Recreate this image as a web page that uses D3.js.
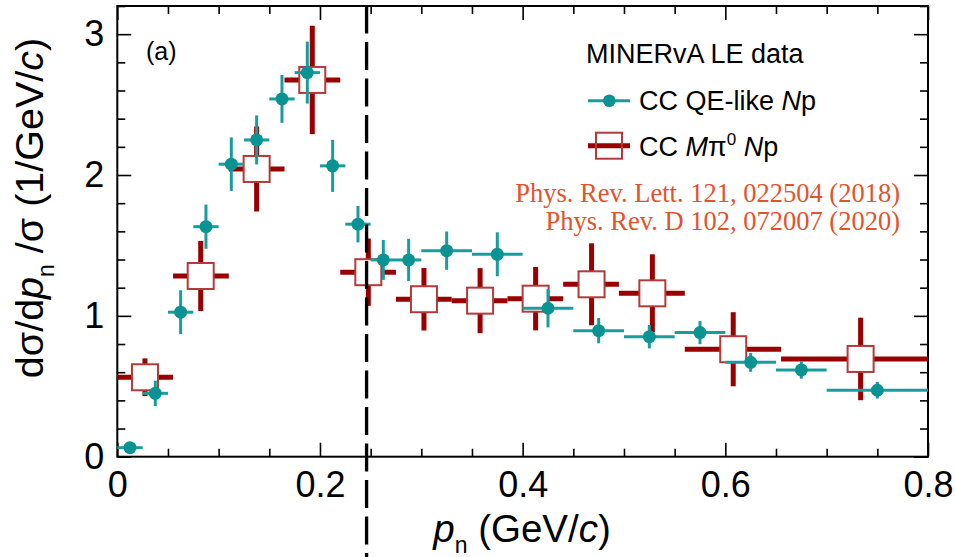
<!DOCTYPE html>
<html>
<head>
<meta charset="utf-8">
<script src="https://cdn.jsdelivr.net/npm/d3@7"></script>
<style>
  html, body { margin: 0; padding: 0; background: #fff; }
  svg { display: block; }
</style>
</head>
<body>
<div id="chart"></div>
<script>
// ---------- data ----------
// CC QE-like Np (teal)
const qeX   = [0.0125, 0.0375, 0.0625, 0.0875, 0.1125, 0.1375, 0.1625, 0.1875, 0.2125, 0.2375,
               0.2625, 0.2875, 0.325, 0.375, 0.425, 0.475, 0.525, 0.575, 0.625, 0.675, 0.75];
const qeLo  = [0, 0.025, 0.05, 0.075, 0.1, 0.125, 0.15, 0.175, 0.2, 0.225,
               0.25, 0.275, 0.3, 0.35, 0.4, 0.45, 0.5, 0.55, 0.6, 0.65, 0.7];
const qeHi  = [0.025, 0.05, 0.075, 0.1, 0.125, 0.15, 0.175, 0.2, 0.225, 0.25,
               0.275, 0.3, 0.35, 0.4, 0.45, 0.5, 0.55, 0.6, 0.65, 0.7, 0.8];
const qeY   = [0.064, 0.45, 1.026, 1.633, 2.077, 2.249, 2.54, 2.727, 2.065, 1.651,
               1.397, 1.397, 1.463, 1.437, 1.054, 0.895, 0.852, 0.881, 0.67, 0.616, 0.472];
const qeErr = [0.03, 0.09, 0.156, 0.157, 0.19, 0.174, 0.17, 0.22, 0.185, 0.13,
               0.142, 0.15, 0.136, 0.156, 0.136, 0.09, 0.083, 0.082, 0.067, 0.062, 0.059];

// CC Mπ0 Np (dark red)
const piX   = [0.0273, 0.0823, 0.1375, 0.1924, 0.2477, 0.3026, 0.358, 0.4128, 0.468, 0.528, 0.6078, 0.7335];
const piLo  = [0, 0.055, 0.11, 0.165, 0.22, 0.275, 0.33, 0.385, 0.44, 0.495, 0.56, 0.655];
const piHi  = [0.055, 0.11, 0.165, 0.22, 0.275, 0.33, 0.385, 0.44, 0.495, 0.56, 0.655, 0.8];
const piY   = [0.564, 1.283, 2.043, 2.675, 1.31, 1.118, 1.108, 1.122, 1.224, 1.16, 0.763, 0.694];
const piErr = [0.134, 0.249, 0.302, 0.385, 0.239, 0.222, 0.231, 0.225, 0.291, 0.277, 0.263, 0.293];

const xMajor = [0, 0.2, 0.4, 0.6, 0.8];
const xMajorLabels = ["0", "0.2", "0.4", "0.6", "0.8"];
const yMajor = [0, 1, 2, 3];
const yMajorLabels = ["0", "1", "2", "3"];
const cutValue = 0.246;

// ---------- layout ----------
const W = 955, H = 557;
const L = 117.3, R = 928, T = 6, B = 456.7;
const teal = "#0a9393", tealBar = "#1a9c9c";
const red = "#990000", redSq = "#b23a3a";
const citeColor = "#e2532b";
const SANS = "Liberation Sans, Arial, Helvetica, sans-serif";
const SERIF = "Liberation Serif, Times New Roman, serif";

const svg = d3.select("#chart").append("svg").attr("width", W).attr("height", H)
  .attr("font-family", SANS);

const x = d3.scaleLinear().domain([0, 0.8]).range([L, R]);
const y = d3.scaleLinear().domain([0, 3.2]).range([B, T]);

const xMinor = d3.range(0, 0.8001, 0.05).filter(v => !xMajor.some(m => Math.abs(m - v) < 1e-6));
const yMinor = d3.range(0, 3.2001, 0.2).filter(v => !yMajor.some(m => Math.abs(m - v) < 1e-6));

function styleAxis(g) {
  g.attr("font-family", SANS);
  g.select(".domain").remove();
  g.selectAll(".tick line").attr("stroke", "#000").attr("stroke-width", 1.6);
}

// bottom major with labels
svg.append("g").attr("transform", `translate(0,${B})`)
  .call(d3.axisBottom(x).tickValues(xMajor).tickFormat((d, i) => xMajorLabels[i])
        .tickSizeInner(-14).tickSizeOuter(0).tickPadding(15))
  .call(styleAxis)
  .call(g => g.attr("font-size", 36).selectAll("text").attr("fill", "#000"));
svg.append("g").attr("transform", `translate(0,${B})`)
  .call(d3.axisBottom(x).tickValues(xMinor).tickFormat("").tickSizeInner(-8).tickSizeOuter(0))
  .call(styleAxis);
// top
svg.append("g").attr("transform", `translate(0,${T})`)
  .call(d3.axisTop(x).tickValues(xMajor).tickFormat("").tickSizeInner(-14).tickSizeOuter(0))
  .call(styleAxis);
svg.append("g").attr("transform", `translate(0,${T})`)
  .call(d3.axisTop(x).tickValues(xMinor).tickFormat("").tickSizeInner(-8).tickSizeOuter(0))
  .call(styleAxis);
// left
svg.append("g").attr("transform", `translate(${L},0)`)
  .call(d3.axisLeft(y).tickValues(yMajor).tickFormat((d, i) => yMajorLabels[i])
        .tickSizeInner(-14).tickSizeOuter(0).tickPadding(13))
  .call(styleAxis)
  .call(g => g.attr("font-size", 36).selectAll("text").attr("fill", "#000"));
svg.append("g").attr("transform", `translate(${L},0)`)
  .call(d3.axisLeft(y).tickValues(yMinor).tickFormat("").tickSizeInner(-8).tickSizeOuter(0))
  .call(styleAxis);
// right
svg.append("g").attr("transform", `translate(${R},0)`)
  .call(d3.axisRight(y).tickValues(yMajor).tickFormat("").tickSizeInner(-14).tickSizeOuter(0))
  .call(styleAxis);
svg.append("g").attr("transform", `translate(${R},0)`)
  .call(d3.axisRight(y).tickValues(yMinor).tickFormat("").tickSizeInner(-8).tickSizeOuter(0))
  .call(styleAxis);

// frame
svg.append("rect").attr("x", L).attr("y", T).attr("width", R - L).attr("height", B - T)
  .attr("fill", "none").attr("stroke", "#000").attr("stroke-width", 2);

// ---------- red series (Mπ0) ----------
const piData = piX.map((v, i) => ({x: v, lo: piLo[i], hi: piHi[i], y: piY[i], e: piErr[i]}));
const gPi = svg.append("g");
gPi.selectAll("line.h").data(piData).join("line")
  .attr("x1", d => x(d.lo)).attr("x2", d => x(d.hi))
  .attr("y1", d => y(d.y)).attr("y2", d => y(d.y))
  .attr("stroke", red).attr("stroke-width", 5);
gPi.selectAll("line.v").data(piData).join("line")
  .attr("x1", d => x(d.x)).attr("x2", d => x(d.x))
  .attr("y1", d => y(d.y - d.e)).attr("y2", d => y(d.y + d.e))
  .attr("stroke", red).attr("stroke-width", 5);
gPi.selectAll("rect").data(piData).join("rect")
  .attr("x", d => x(d.x) - 13).attr("y", d => y(d.y) - 13)
  .attr("width", 26).attr("height", 26)
  .attr("fill", "#fff").attr("stroke", redSq).attr("stroke-width", 2);

// ---------- teal series (QE-like) ----------
const qeData = qeX.map((v, i) => ({x: v, lo: qeLo[i], hi: qeHi[i], y: qeY[i], e: qeErr[i]}));
const gQe = svg.append("g");
gQe.selectAll("line.h").data(qeData).join("line")
  .attr("x1", d => x(d.lo)).attr("x2", d => x(d.hi))
  .attr("y1", d => y(d.y)).attr("y2", d => y(d.y))
  .attr("stroke", tealBar).attr("stroke-width", 3);
gQe.selectAll("line.v").data(qeData).join("line")
  .attr("x1", d => x(d.x)).attr("x2", d => x(d.x))
  .attr("y1", d => y(d.y - d.e)).attr("y2", d => y(d.y + d.e))
  .attr("stroke", tealBar).attr("stroke-width", 3);
gQe.selectAll("circle").data(qeData).join("circle")
  .attr("cx", d => x(d.x)).attr("cy", d => y(d.y)).attr("r", 6.5)
  .attr("fill", teal);

// ---------- dashed cut line ----------
svg.append("line")
  .attr("x1", x(cutValue)).attr("x2", x(cutValue)).attr("y1", 0).attr("y2", H)
  .attr("stroke", "#000").attr("stroke-width", 3.3)
  .attr("stroke-dasharray", "28,8.5").attr("stroke-dashoffset", 31);

// ---------- texts ----------
svg.append("text").attr("x", 146).attr("y", 60).attr("font-size", 25).text("(a)");

// legend
svg.append("text").attr("x", 586).attr("y", 63).attr("font-size", 27).text("MINERvA LE data");
svg.append("line").attr("x1", 588).attr("x2", 630).attr("y1", 100.7).attr("y2", 100.7)
  .attr("stroke", tealBar).attr("stroke-width", 3);
svg.append("circle").attr("cx", 609.3).attr("cy", 100.7).attr("r", 6.3).attr("fill", teal);
const t1 = svg.append("text").attr("x", 639).attr("y", 110).attr("font-size", 27);
t1.append("tspan").text("CC QE-like ");
t1.append("tspan").attr("font-style", "italic").text("N");
t1.append("tspan").text("p");

svg.append("line").attr("x1", 588).attr("x2", 630).attr("y1", 145.7).attr("y2", 145.7)
  .attr("stroke", red).attr("stroke-width", 5);
svg.append("rect").attr("x", 596).attr("y", 132.7).attr("width", 26).attr("height", 26)
  .attr("fill", "none").attr("stroke", redSq).attr("stroke-width", 2);
const t2 = svg.append("text").attr("x", 639).attr("y", 156).attr("font-size", 27);
t2.append("tspan").text("CC ");
t2.append("tspan").attr("font-style", "italic").text("M");
t2.append("tspan").text("π");
t2.append("tspan").attr("font-size", 17).attr("dy", -11).text("0");
t2.append("tspan").attr("dy", 11).text(" ");
t2.append("tspan").attr("font-style", "italic").text("N");
t2.append("tspan").text("p");

// citations
svg.append("text").attr("x", 900).attr("y", 201.7).attr("text-anchor", "end")
  .attr("font-family", SERIF).attr("font-size", 26.5)
  .attr("fill", citeColor).text("Phys. Rev. Lett. 121, 022504 (2018)");
svg.append("text").attr("x", 900).attr("y", 230).attr("text-anchor", "end")
  .attr("font-family", SERIF).attr("font-size", 26.5)
  .attr("fill", citeColor).text("Phys. Rev. D 102, 072007 (2020)");

// x axis title
const xt = svg.append("text").attr("x", 522).attr("y", 541.7).attr("text-anchor", "middle").attr("font-size", 38.5);
xt.append("tspan").attr("font-style", "italic").text("p");
xt.append("tspan").attr("font-size", 23).attr("dy", 11).text("n");
xt.append("tspan").attr("dy", -11).text(" (GeV/");
xt.append("tspan").attr("font-style", "italic").text("c");
xt.append("tspan").text(")");

// y axis title
const yt = svg.append("text").attr("transform", "translate(43,208) rotate(-90)")
  .attr("text-anchor", "middle").attr("font-size", 39.5);
yt.append("tspan").text("dσ/d");
yt.append("tspan").attr("font-style", "italic").text("p");
yt.append("tspan").attr("font-size", 23).attr("dy", 11).text("n");
yt.append("tspan").attr("dy", -11).text(" /σ (1/GeV/");
yt.append("tspan").attr("font-style", "italic").text("c");
yt.append("tspan").text(")");
</script>
</body>
</html>
